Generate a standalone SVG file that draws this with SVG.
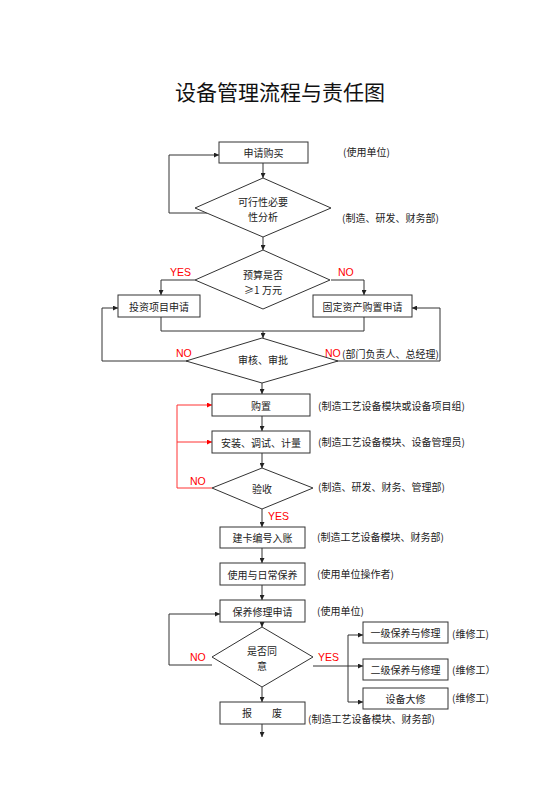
<svg xmlns="http://www.w3.org/2000/svg" width="560" height="792" viewBox="0 0 560 792">
<defs>
<marker id="ah" viewBox="0 0 10 10" refX="10" refY="5" markerWidth="5" markerHeight="5" orient="auto" markerUnits="userSpaceOnUse"><path d="M0,0 L10,5 L0,10 z" fill="#222"/></marker>
<marker id="ahr" viewBox="0 0 10 10" refX="10" refY="5" markerWidth="5" markerHeight="5" orient="auto" markerUnits="userSpaceOnUse"><path d="M0,0 L10,5 L0,10 z" fill="#f00"/></marker>
<style>
.n{fill:#fff;stroke:#333;stroke-width:1}
.t{font-family:"Noto Sans CJK SC","Liberation Sans",sans-serif;font-size:10px;fill:#222;dominant-baseline:central}
.c{text-anchor:middle}
.r{fill:#f00;font-family:"Liberation Sans","Noto Sans CJK SC",sans-serif;font-size:10.5px;dominant-baseline:central}
.l{fill:none;stroke:#333;stroke-width:1}
.a{marker-end:url(#ah)}
.lr{fill:none;stroke:#f33;stroke-width:1;marker-end:url(#ahr)}
</style>
</defs>
<rect width="560" height="792" fill="#fff"/>
<text x="280" y="91" class="t c" style="font-size:21px;fill:#111">设备管理流程与责任图</text>

<g id="connectors">
<path class="l a" d="M263,163 V178"/>
<path class="l a" d="M207,213 H169 V155 H219"/>
<path class="l a" d="M263,237 V250"/>
<path class="l a" d="M195,280 H161 V295"/>
<path class="l a" d="M331,280 H364 V295"/>
<path class="l" d="M161,317 V331 H364 V317"/>
<path class="l a" d="M263,331 V338"/>
<path class="l a" d="M190,361 H102 V308 H118"/>
<path class="l a" d="M334,361 H440 V308 H412"/>
<path class="l a" d="M262,383 V394"/>
<path class="l a" d="M262,416 V431"/>
<path class="l a" d="M262,453 V468"/>
<path class="lr" d="M212,488 H177 V405 H212"/>
<path class="lr" d="M177,442 H212"/>
<path class="l a" d="M262,509 V527"/>
<path class="l a" d="M262,548 V563"/>
<path class="l a" d="M262,585 V600"/>
<path class="l a" d="M262,622 V627"/>
<path class="l a" d="M212,665 H169 V614 H220"/>
<path class="l a" d="M313,666 H363"/>
<path class="l a" d="M348,666 V635 H363"/>
<path class="l a" d="M348,666 V702 H363"/>
<path class="l a" d="M262,687 V702"/>
<path class="l a" d="M262,724 V737"/>
</g>

<g id="n1"><rect class="n" x="219" y="142" width="89" height="21"/><text class="t c" x="263.5" y="152.5">申请购买</text></g>
<g id="n2"><polygon class="n" points="263,178 331,208 263,237 195,208"/><text class="t c" x="263" y="201"><tspan x="263">可行性必要</tspan><tspan x="263" dy="14.5">性分析</tspan></text></g>
<g id="n3"><polygon class="n" points="263,250 330,280 263,309 195,280"/><text class="t c" x="263" y="274"><tspan x="263">预算是否</tspan><tspan x="263" dy="14.5">≥1 万元</tspan></text></g>
<g id="n4"><rect class="n" x="118" y="295" width="82" height="22"/><text class="t c" x="159" y="306">投资项目申请</text></g>
<g id="n5"><rect class="n" x="313" y="295" width="99" height="22"/><text class="t c" x="362.5" y="306">固定资产购置申请</text></g>
<g id="n6"><polygon class="n" points="262,338 338,361 262,383 186,361"/><text class="t c" x="263" y="359">审核、审批</text></g>
<g id="n7"><rect class="n" x="212" y="394" width="98" height="22"/><text class="t c" x="261" y="405">购置</text></g>
<g id="n8"><rect class="n" x="212" y="431" width="98" height="22"/><text class="t c" x="261" y="442">安装、调试、计量</text></g>
<g id="n9"><polygon class="n" points="262,468 313,488 262,509 212,488"/><text class="t c" x="262" y="488">验收</text></g>
<g id="n10"><rect class="n" x="220" y="527" width="85" height="21"/><text class="t c" x="262.5" y="537.5">建卡编号入账</text></g>
<g id="n11"><rect class="n" x="220" y="563" width="85" height="22"/><text class="t c" x="262.5" y="574">使用与日常保养</text></g>
<g id="n12"><rect class="n" x="220" y="600" width="85" height="22"/><text class="t c" x="262.5" y="611">保养修理申请</text></g>
<g id="n13"><polygon class="n" points="262,627 313,657 262,687 212,657"/><text class="t c" x="262" y="650"><tspan x="262">是否同</tspan><tspan x="262" dy="14.5">意</tspan></text></g>
<g id="n14"><rect class="n" x="363" y="622" width="85" height="21"/><text class="t c" x="405.5" y="632.5">一级保养与修理</text></g>
<g id="n15"><rect class="n" x="363" y="659" width="85" height="21"/><text class="t c" x="405.5" y="669.5">二级保养与修理</text></g>
<g id="n16"><rect class="n" x="363" y="688" width="85" height="21"/><text class="t c" x="405.5" y="698.5">设备大修</text></g>
<g id="n17"><rect class="n" x="220" y="702" width="85" height="22"/><text class="t" x="242" y="712">报</text><text class="t" x="272" y="712">废</text></g>

<g id="labels">
<text class="t" x="343" y="151">(使用单位)</text>
<text class="t" x="342" y="217">(制造、研发、财务部)</text>
<text class="r" x="170" y="272">YES</text>
<text class="r" x="338" y="272">NO</text>
<text class="r" x="176" y="353">NO</text>
<text class="r" x="325" y="353">NO</text>
<text class="t" x="342" y="353">(部门负责人、总经理)</text>
<text class="t" x="318" y="405">(制造工艺设备模块或设备项目组)</text>
<text class="t" x="318" y="441">(制造工艺设备模块、设备管理员)</text>
<text class="r" x="190" y="481">NO</text>
<text class="t" x="318" y="486">(制造、研发、财务、管理部)</text>
<text class="r" x="268" y="516">YES</text>
<text class="t" x="317" y="536">(制造工艺设备模块、财务部)</text>
<text class="t" x="317" y="573">(使用单位操作者)</text>
<text class="t" x="317" y="610">(使用单位)</text>
<text class="r" x="190" y="657">NO</text>
<text class="r" x="318" y="657">YES</text>
<text class="t" x="452" y="633">(维修工)</text>
<text class="t" x="452" y="669">(维修工）</text>
<text class="t" x="452" y="697">(维修工)</text>
<text class="t" x="308" y="718">(制造工艺设备模块、财务部)</text>
</g>
</svg>
